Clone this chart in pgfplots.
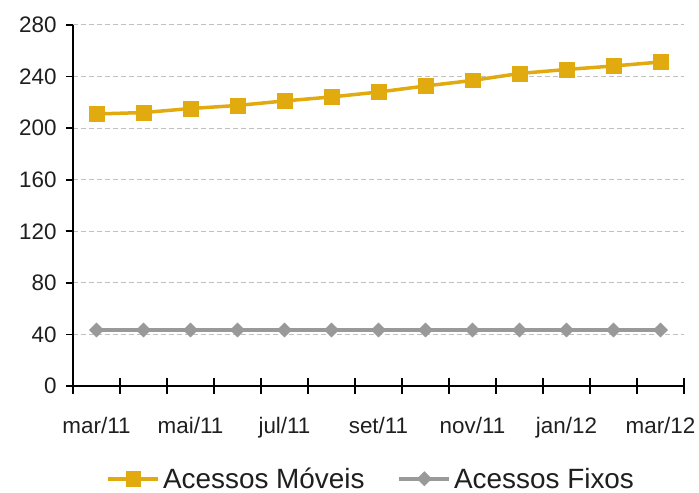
\documentclass[border=0pt]{standalone}
\usepackage{pgfplots}
\pgfplotsset{compat=1.18}
\usepackage{fontspec}
\setmainfont{Liberation Sans}
\definecolor{gold}{HTML}{E1AA0F}
\definecolor{fixgray}{HTML}{999999}
\definecolor{gridgray}{HTML}{C0C0C0}
\begin{document}
\begin{tikzpicture}
\begin{axis}[
  scale only axis,
  width=611bp, height=361bp,
  xmin=-0.5, xmax=12.5, ymin=0, ymax=280,
  axis x line*=bottom, axis y line*=left,
  axis line style={-, black, line width=2bp},
  xtick={0,2,...,12},
  xticklabels={mar/11,mai/11,jul/11,set/11,nov/11,jan/12,mar/12},
  minor xtick={-0.5,0.5,...,12.5},
  xtick align=center,
  major x tick style={draw=none},
  minor x tick style={black, line width=1.7bp},
  minor tick length=15bp,
  ytick={0,40,...,280},
  ytick align=outside,
  major tick length=7bp,
  y tick style={black, line width=1.7bp},
  ymajorgrids,
  major grid style={gridgray, dash pattern=on 5bp off 3bp, line width=1bp},
  /pgf/number format/assume math mode=true,
  tick label style={font=\fontsize{22.5}{26}\selectfont, text=black!88},
  xticklabel style={yshift=-24bp},
  yticklabel style={xshift=-6bp},
  legend columns=2,
  legend style={at={(0.489,-0.257)}, anchor=center, draw=none,
    font=\fontsize{28}{32}\selectfont, text=black!88,
    /tikz/every even column/.append style={column sep=30bp},
    nodes={inner sep=3bp}},
  legend image code/.code={\draw[mark repeat=2, mark phase=2, #1] plot coordinates {(0bp,0bp) (25bp,0bp) (50bp,0bp)};},
]
\addplot[gold, line width=3.5bp, mark=square*, mark size=7.3bp, mark options={solid, line width=0.5bp}] coordinates {
(0,211.0) (1,212.1) (2,215.2) (3,217.6) (4,221.1) (5,224.2) (6,228.0) (7,232.7) (8,237.0) (9,242.4) (10,245.5) (11,248.2) (12,251.3)};
\addlegendentry{Acessos Móveis}
\addplot[fixgray, line width=3.5bp, mark=square*, mark size=5bp, mark options={solid, line width=0.5bp, rotate=45}] coordinates {
(0,43.4) (1,43.4) (2,43.4) (3,43.4) (4,43.4) (5,43.4) (6,43.4) (7,43.4) (8,43.4) (9,43.4) (10,43.4) (11,43.4) (12,43.4)};
\addlegendentry{Acessos Fixos}
\end{axis}
\pgfresetboundingbox
\useasboundingbox (current axis.south west) ++(-73bp,-107bp) rectangle ++(699bp,493bp);
\end{tikzpicture}
\end{document}
